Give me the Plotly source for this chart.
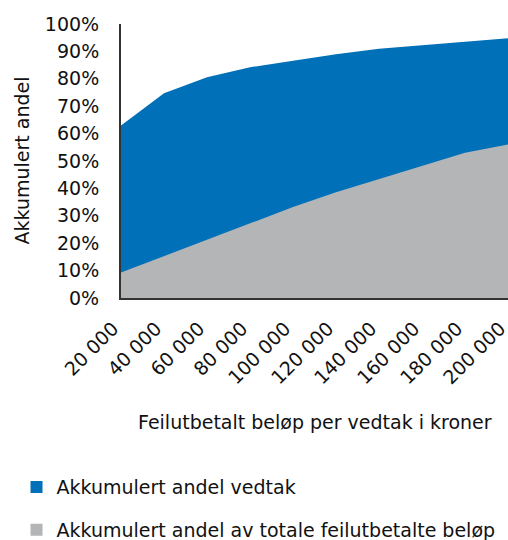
import plotly.graph_objects as go

categories = ["20 000", "40 000", "60 000", "80 000", "100 000",
              "120 000", "140 000", "160 000", "180 000", "200 000"]
andel_vedtak = [0.630, 0.747, 0.806, 0.842, 0.866, 0.890, 0.910, 0.923, 0.935, 0.948]
andel_belop = [0.093, 0.153, 0.212, 0.272, 0.332, 0.386, 0.434, 0.484, 0.530, 0.560]
series_names = ["Akkumulert andel vedtak", "Akkumulert andel av totale feilutbetalte beløp"]
colors = ["#0070b8", "#b4b5b7"]

FONT = "DejaVu Sans"

fig = go.Figure()
fig.add_trace(go.Scatter(x=categories, y=andel_vedtak, mode="lines", fill="tozeroy",
                         line=dict(width=0, color=colors[0]), fillcolor=colors[0],
                         showlegend=False, hoverinfo="skip"))
fig.add_trace(go.Scatter(x=categories, y=andel_belop, mode="lines", fill="tozeroy",
                         line=dict(width=0, color=colors[1]), fillcolor=colors[1],
                         showlegend=False, hoverinfo="skip"))
for i, name in enumerate(series_names):
    fig.add_trace(go.Scatter(x=[None], y=[None], mode="markers", name=name,
                             legendgroup=f"g{i}",
                             marker=dict(symbol="square", size=12, color=colors[i])))

fig.update_layout(
    width=508, height=540,
    margin=dict(l=121, r=0, t=24, b=242, autoexpand=False),
    paper_bgcolor="white", plot_bgcolor="white",
    font=dict(family=FONT, size=19, color="#111111"),
    showlegend=True,
    legend=dict(x=-0.27, y=-0.621, xanchor="left", yanchor="top",
                traceorder="grouped", tracegroupgap=15,
                font=dict(family=FONT, size=19, color="#111111"),
                bgcolor="rgba(0,0,0,0)"),
    xaxis=dict(type="category", range=[0, 9], tickangle=-45, showgrid=False,
               showline=True, linecolor="#333333", linewidth=2, ticks="",
               automargin=False, ticklabelshift=-8, ticklabelstandoff=10,
               tickfont=dict(size=19), zeroline=False),
    yaxis=dict(range=[0, 1], dtick=0.1, tickformat=".0%", showgrid=False,
               showline=True, linecolor="#333333", linewidth=2, ticks="",
               automargin=False, ticklabelstandoff=16,
               tickfont=dict(size=19), zeroline=False),
    annotations=[
        dict(text="Feilutbetalt beløp per vedtak i kroner", xref="paper", yref="paper",
             x=0.5, y=-0.4526, xanchor="center", yanchor="middle", showarrow=False,
             font=dict(size=19)),
        dict(text="Akkumulert andel", xref="paper", yref="paper",
             x=-0.257, y=0.5, xanchor="center", yanchor="middle", showarrow=False,
             textangle=-90, font=dict(size=19)),
    ],
)

# remove the default page margin so the 508x540 figure fills the window exactly
fig.write_html("out.html",
               config={"displayModeBar": False},
               post_script="document.body.style.margin='0';document.body.style.overflow='hidden';")
